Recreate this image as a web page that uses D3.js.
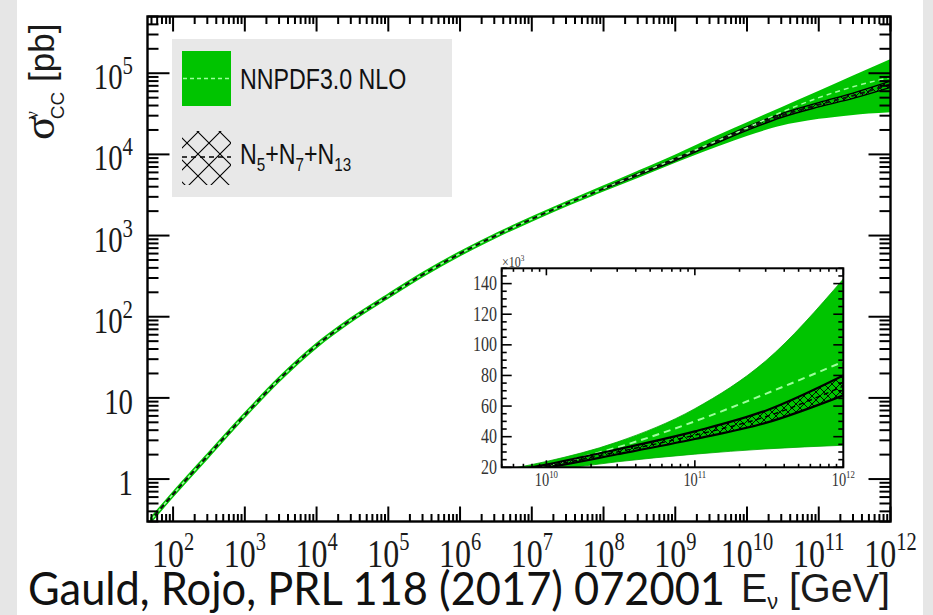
<!DOCTYPE html>
<html>
<head>
<meta charset="utf-8">
<script src="https://cdn.jsdelivr.net/npm/d3@7"></script>
<style>
  html, body { margin: 0; padding: 0; background: #e6e6e6; }
  svg { display: block; }
</style>
</head>
<body>
<svg id="chart" width="933" height="615"></svg>
<script>
// ---- data: charged-current neutrino cross section (pb) vs neutrino energy (GeV)
const energies = [50, 1e2, 3e2, 1e3, 3e3, 1e4, 3e4, 1e5, 3e5, 1e6, 3e6, 1e7, 3e7, 1e8, 3e8, 1e9, 3e9, 1e10, 3e10, 1e11, 3e11, 1e12];
const nnpdfCentral = [0.32, 0.65, 1.91, 6.15, 16.9, 44.3, 91, 180, 330, 600, 980, 1600, 2450, 3800, 5675, 8870, 13400, 21200, 33000, 50000, 68000, 89000];
const nnpdfLow = [0.31, 0.63, 1.85, 5.97, 16.4, 43.0, 88.3, 174.6, 320, 582, 951, 1552, 2377, 3650, 5370, 8240, 12000, 17700, 23600, 28600, 32000, 34400];
const nnpdfHigh = [0.33, 0.67, 1.97, 6.33, 17.4, 45.6, 93.7, 185.4, 340, 618, 1009, 1648, 2524, 3980, 6010, 9550, 14900, 23800, 36500, 58300, 89500, 143000];
// N5+N7+N13 combination
const combCentral = [0.32, 0.65, 1.91, 6.15, 16.9, 44.3, 91, 180, 330, 600, 980, 1600, 2450, 3780, 5650, 8650, 13100, 20800, 30000, 41000, 53000, 73000];
const combEnergies = [1e8, 3e8, 1e9, 3e9, 1e10, 3e10, 1e11, 3e11, 1e12];
const combLow = [3720, 5520, 8400, 12700, 19800, 28500, 38500, 49000, 67000];
const combHigh = [3850, 5780, 8900, 13500, 21800, 31700, 43500, 57000, 80000];

// axis ticks
const xTickExponents = ["2", "3", "4", "5", "6", "7", "8", "9", "10", "11", "12"];
const yTickValues = [1, 10, 1e2, 1e3, 1e4, 1e5];
const yTickBase = ["1", "10", "10", "10", "10", "10"];
const yTickExp = ["", "", "2", "3", "4", "5"];
const insetYTicks = [20, 40, 60, 80, 100, 120, 140];   // in units of 10^3 pb
const insetXTickExp = ["10", "11", "12"];

// legend
const legendLabels = ["NNPDF3.0 NLO", "N5+N7+N13"];

const GREEN = "#00c400";
const LIGHT_GREEN = "#9dff9d";
const SERIF = "'Liberation Serif', 'DejaVu Serif', serif";
const SANS = "'Liberation Sans', Arial, sans-serif";
const SX = 0.8; // horizontal squeeze used for the lettering

const svg = d3.select("#chart");
const W = 933, H = 615;

svg.append("rect").attr("width", W).attr("height", H).attr("fill", "#e6e6e6");
svg.append("rect").attr("x", 17).attr("y", 0).attr("width", 906).attr("height", H).attr("fill", "#ffffff");

const defs = svg.append("defs");

function hatchPattern(id, size, width) {
  const p = defs.append("pattern").attr("id", id)
    .attr("patternUnits", "userSpaceOnUse")
    .attr("width", size).attr("height", size);
  p.append("path")
    .attr("d", `M0,0 L${size},${size} M${size},0 L0,${size} M${-size/2},${size/2} L${size/2},${size*1.5} M${size/2},${-size/2} L${size*1.5},${size/2} M${size/2},${-size/2} L${-size/2},${size/2} M${size*1.5},${size/2} L${size/2},${size*1.5}`)
    .attr("stroke", "#000").attr("stroke-width", width).attr("fill", "none");
}
hatchPattern("hatchSmall", 8, 0.9);
hatchPattern("hatchLegend", 22, 1.1);

// ---- main frame and scales
const F = { l: 147.5, r: 890.5, t: 16.5, b: 521.5 };
const x = d3.scaleLog().domain([44, 1e12]).range([F.l, F.r]);
const y = d3.scaleLog().domain([0.3, 5e5]).range([F.b, F.t]);

defs.append("clipPath").attr("id", "mainClip")
  .append("rect").attr("x", F.l).attr("y", F.t).attr("width", F.r - F.l).attr("height", F.b - F.t);

function logTicks(domain) {
  const out = [];
  const lo = Math.floor(Math.log10(domain[0])), hi = Math.ceil(Math.log10(domain[1]));
  for (let d = lo; d <= hi; d++) {
    for (let m = 1; m <= 9; m++) {
      const v = m * Math.pow(10, d);
      if (v >= domain[0] * 0.999 && v <= domain[1] * 1.001) out.push({ v, major: m === 1 });
    }
  }
  return out;
}

function squeezedText(parent, px, py, anchor, sx) {
  return parent.append("text")
    .attr("transform", `translate(${px},${py}) scale(${sx || SX},1)`)
    .attr("text-anchor", anchor || "start");
}

// ---- legend box
const leg = svg.append("g");
leg.append("rect").attr("x", 172).attr("y", 39).attr("width", 280).attr("height", 158).attr("fill", "#e8e8e8");
leg.append("rect").attr("x", 182).attr("y", 51).attr("width", 49).attr("height", 55).attr("fill", GREEN);
leg.append("line").attr("x1", 183).attr("x2", 231).attr("y1", 78.5).attr("y2", 78.5)
  .attr("stroke", LIGHT_GREEN).attr("stroke-width", 1.5).attr("stroke-dasharray", "4,3");
leg.append("rect").attr("x", 182).attr("y", 131).attr("width", 49).attr("height", 54)
  .attr("fill", "url(#hatchLegend)");
leg.append("line").attr("x1", 182).attr("x2", 231).attr("y1", 157).attr("y2", 157)
  .attr("stroke", "#000").attr("stroke-width", 1.6).attr("stroke-dasharray", "5,4");

squeezedText(leg, 240, 89).attr("font-family", SANS).attr("font-size", 29).attr("fill", "#111")
  .text(legendLabels[0]);
{
  const t = squeezedText(leg, 240, 164).attr("font-family", SANS).attr("font-size", 29).attr("fill", "#111");
  const m = legendLabels[1].match(/N(\d+)\+N(\d+)\+N(\d+)/);
  t.append("tspan").text("N");
  t.append("tspan").attr("font-size", 19).attr("dy", 7).text(m[1]);
  t.append("tspan").attr("dy", -7).text("+N");
  t.append("tspan").attr("font-size", 19).attr("dy", 7).text(m[2]);
  t.append("tspan").attr("dy", -7).text("+N");
  t.append("tspan").attr("font-size", 19).attr("dy", 7).text(m[3]);
}

// ---- curves in the main frame
const mainPlot = svg.append("g").attr("clip-path", "url(#mainClip)");
const bandArea = d3.area()
  .x((d, i) => x(energies[i]))
  .y0((d, i) => y(nnpdfLow[i]))
  .y1((d, i) => y(nnpdfHigh[i]))
  .curve(d3.curveMonotoneX);
mainPlot.append("path").attr("d", bandArea(energies))
  .attr("fill", GREEN).attr("stroke", GREEN).attr("stroke-width", 3).attr("stroke-linejoin", "round");

const combArea = d3.area()
  .x((d, i) => x(combEnergies[i]))
  .y0((d, i) => y(combLow[i]))
  .y1((d, i) => y(combHigh[i]))
  .curve(d3.curveMonotoneX);
mainPlot.append("path").attr("d", combArea(combEnergies))
  .attr("fill", "url(#hatchSmall)").attr("stroke", "#000").attr("stroke-width", 1.4);

const nnLine = d3.line().x((d, i) => x(energies[i])).y((d, i) => y(nnpdfCentral[i])).curve(d3.curveMonotoneX);
const combLine = d3.line().x((d, i) => x(energies[i])).y((d, i) => y(combCentral[i])).curve(d3.curveMonotoneX);
mainPlot.append("path").attr("d", nnLine(energies)).attr("fill", "none")
  .attr("stroke", LIGHT_GREEN).attr("stroke-width", 1.5).attr("stroke-dasharray", "5,4");
mainPlot.append("path").attr("d", combLine(energies)).attr("fill", "none")
  .attr("stroke", "#111").attr("stroke-width", 2).attr("stroke-dasharray", "5,4").attr("stroke-dashoffset", 4);

// ---- inset
const I = { l: 501.7, r: 843.3, t: 268.3, b: 467.3 };
const xi = d3.scaleLog().domain([5e9, 1e12]).range([I.l, I.r]);
const yi = d3.scaleLinear().domain([20000, 150000]).range([I.b, I.t]);
defs.append("clipPath").attr("id", "insetClip")
  .append("rect").attr("x", I.l).attr("y", I.t).attr("width", I.r - I.l).attr("height", I.b - I.t);

const inset = svg.append("g");
inset.append("rect").attr("x", I.l).attr("y", I.t).attr("width", I.r - I.l).attr("height", I.b - I.t).attr("fill", "#fff");
const insetPlot = inset.append("g").attr("clip-path", "url(#insetClip)");
insetPlot.append("path")
  .attr("d", d3.area().x((d, i) => xi(energies[i])).y0((d, i) => yi(nnpdfLow[i])).y1((d, i) => yi(nnpdfHigh[i])).curve(d3.curveMonotoneX)(energies))
  .attr("fill", GREEN).attr("stroke", "#00a800").attr("stroke-width", 0.8);
insetPlot.append("path")
  .attr("d", d3.line().x((d, i) => xi(energies[i])).y((d, i) => yi(nnpdfCentral[i])).curve(d3.curveMonotoneX)(energies))
  .attr("fill", "none").attr("stroke", LIGHT_GREEN).attr("stroke-width", 2).attr("stroke-dasharray", "7,5");
insetPlot.append("path")
  .attr("d", d3.area().x((d, i) => xi(combEnergies[i])).y0((d, i) => yi(combLow[i])).y1((d, i) => yi(combHigh[i])).curve(d3.curveMonotoneX)(combEnergies))
  .attr("fill", "url(#hatchSmall)").attr("stroke", "#000").attr("stroke-width", 2.2);
insetPlot.append("path")
  .attr("d", d3.line().x((d, i) => xi(energies[i])).y((d, i) => yi(combCentral[i])).curve(d3.curveMonotoneX)(energies))
  .attr("fill", "none").attr("stroke", "#000").attr("stroke-width", 1.4).attr("stroke-dasharray", "5,4");

// inset frame and ticks
inset.append("rect").attr("x", I.l).attr("y", I.t).attr("width", I.r - I.l).attr("height", I.b - I.t)
  .attr("fill", "none").attr("stroke", "#000").attr("stroke-width", 2);
const insetTicks = inset.append("g").attr("stroke", "#000").attr("stroke-width", 1.6);
d3.range(20000, 150001, 5000).forEach(v => {
  const major = v % 20000 === 0;
  const len = major ? 10 : 5;
  insetTicks.append("line").attr("x1", I.l).attr("x2", I.l + len).attr("y1", yi(v)).attr("y2", yi(v));
  insetTicks.append("line").attr("x1", I.r).attr("x2", I.r - len).attr("y1", yi(v)).attr("y2", yi(v));
});
logTicks(xi.domain()).forEach(t => {
  const len = t.major ? 7 : 3.5;
  insetTicks.append("line").attr("x1", xi(t.v)).attr("x2", xi(t.v)).attr("y1", I.b).attr("y2", I.b - len);
  insetTicks.append("line").attr("x1", xi(t.v)).attr("x2", xi(t.v)).attr("y1", I.t).attr("y2", I.t + len);
});
insetYTicks.forEach(v => {
  squeezedText(inset, 497, yi(v * 1000) + 6.5, "end")
    .attr("font-family", SERIF).attr("font-size", 20).attr("fill", "#333").text(String(v));
});
insetXTickExp.forEach(e => {
  const t = squeezedText(inset, xi(Math.pow(10, +e)), 486, "middle")
    .attr("font-family", SERIF).attr("font-size", 18).attr("fill", "#333");
  t.append("tspan").text("10");
  t.append("tspan").attr("font-size", 11).attr("dy", -8).text(e);
});
{
  const t = squeezedText(inset, 502, 267).attr("font-family", SERIF).attr("font-size", 15).attr("fill", "#333");
  t.append("tspan").text("×10");
  t.append("tspan").attr("font-size", 9).attr("dy", -6).text("3");
}

// ---- main frame, ticks and tick labels
const axes = svg.append("g").attr("stroke", "#000").attr("stroke-width", 2);
logTicks(y.domain()).forEach(t => {
  const len = t.major ? 22 : 11;
  const py = y(t.v);
  axes.append("line").attr("x1", F.l).attr("x2", F.l + len).attr("y1", py).attr("y2", py);
  axes.append("line").attr("x1", F.r).attr("x2", F.r - len).attr("y1", py).attr("y2", py);
});
logTicks(x.domain()).forEach(t => {
  const len = t.major ? 15 : 7.5;
  const px = x(t.v);
  axes.append("line").attr("x1", px).attr("x2", px).attr("y1", F.b).attr("y2", F.b - len);
  axes.append("line").attr("x1", px).attr("x2", px).attr("y1", F.t).attr("y2", F.t + len);
});
axes.append("rect").attr("x", F.l).attr("y", F.t).attr("width", F.r - F.l).attr("height", F.b - F.t)
  .attr("fill", "none").attr("stroke-width", 2.4);

const labels = svg.append("g").attr("fill", "#1a1a1a");
yTickValues.forEach((v, i) => {
  const t = squeezedText(labels, 133, y(v) + 16, "end").attr("font-family", SERIF).attr("font-size", 36);
  t.append("tspan").text(yTickBase[i]);
  if (yTickExp[i]) t.append("tspan").attr("font-size", 26).attr("dy", -15).text(yTickExp[i]);
});
xTickExponents.forEach(e => {
  const t = squeezedText(labels, x(Math.pow(10, +e)), 567, "middle", 0.82).attr("font-family", SERIF).attr("font-size", 39);
  t.append("tspan").text("10");
  t.append("tspan").attr("font-size", 25).attr("dy", -17).text(e);
});

// axis titles
{
  const t = labels.append("text")
    .attr("transform", "translate(54,140) rotate(-90)")
    .attr("font-family", SANS).attr("font-size", 35);
  t.append("tspan").attr("font-family", SERIF).attr("font-size", 44).text("σ");
  t.append("tspan").attr("font-family", SERIF).attr("font-size", 18).attr("dx", -3).attr("dy", -16).text("ν");
  t.append("tspan").attr("font-size", 19).attr("dx", -8).attr("dy", 26).text("CC");
  t.append("tspan").attr("dy", -10).text(" [pb]");
}
{
  const t = labels.append("text").attr("x", 741).attr("y", 602)
    .attr("font-family", SANS).attr("font-size", 40)
    .attr("textLength", 149).attr("lengthAdjust", "spacingAndGlyphs");
  t.append("tspan").text("E");
  t.append("tspan").attr("font-size", 22).attr("dy", 7).text("ν");
  t.append("tspan").attr("dy", -7).text(" [GeV]");
}
svg.append("text").attr("x", 28).attr("y", 605)
  .attr("font-family", "Lato, 'Open Sans', sans-serif").attr("font-size", 46).attr("fill", "#111")
  .attr("textLength", 697).attr("lengthAdjust", "spacingAndGlyphs")
  .text("Gauld, Rojo, PRL 118 (2017) 072001");
</script>
</body>
</html>
